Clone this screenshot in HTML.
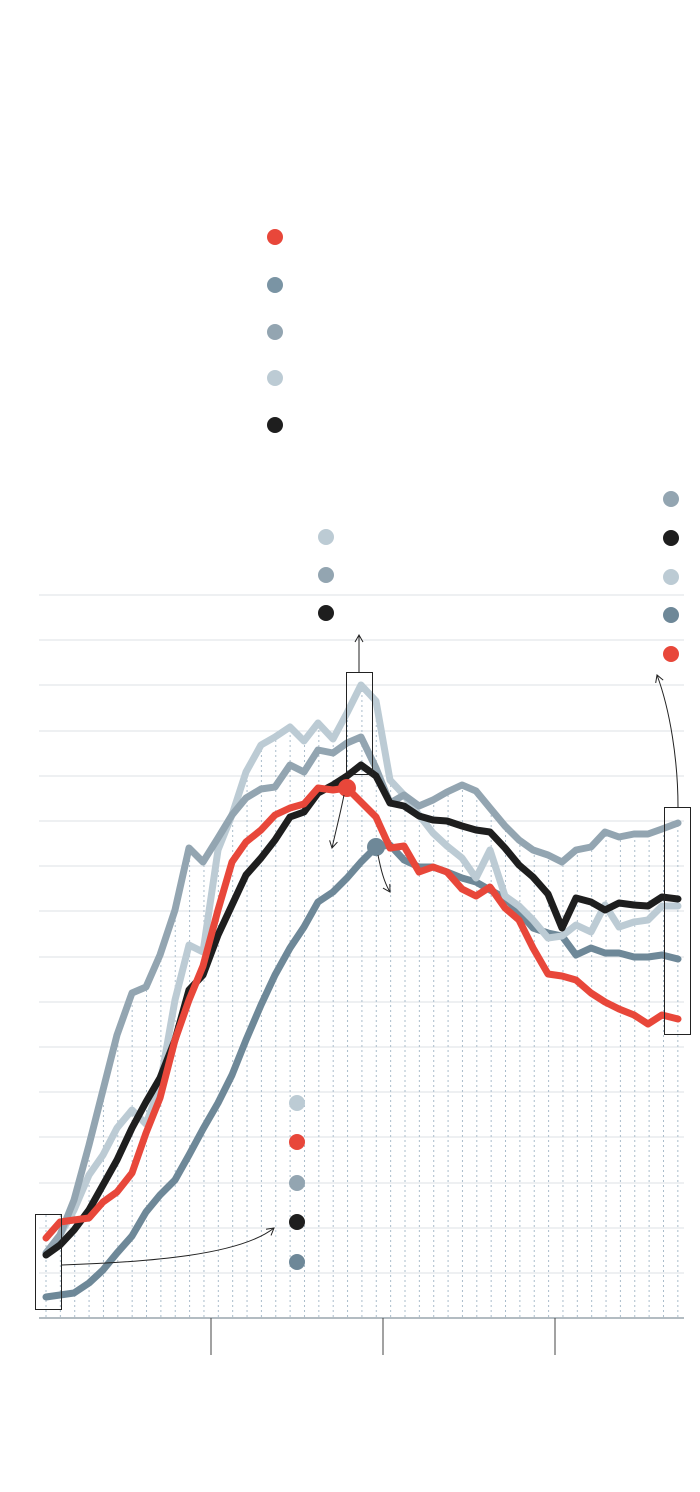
<!DOCTYPE html>
<html><head><meta charset="utf-8"><style>html,body{margin:0;padding:0;background:#fff}svg{display:block}</style></head>
<body>
<svg width="700" height="1492" viewBox="0 0 700 1492" xmlns="http://www.w3.org/2000/svg">
<defs>
<marker id="ah" markerWidth="10" markerHeight="10" refX="8" refY="5" orient="auto"><path d="M1,1 L8,5 L1,9" fill="none" stroke="#222" stroke-width="1"/></marker>
<pattern id="vp" x="45.5" y="0" width="14.36" height="5" patternUnits="userSpaceOnUse"><rect x="0" y="0" width="1" height="2" fill="#a9bccb"/></pattern>
<clipPath id="env"><polygon points="40,1318 40,1214 46,1214 60,1214 74,1200 89,1145 103,1090 117,1035 132,993 146,987 160,955 175,910 189,848 203,862 218,838 232,815 246,772 261,745 275,737 290,727 304,741 318,723 333,739 347,713 361,685 376,701 390,780 404,795 419,806 433,800 447,792 462,785 476,791 490,808 505,826 519,840 533,850 548,855 562,862 576,850 591,847 605,832 619,837 634,834 648,834 662,829 680,823 680,1318"/></clipPath>
</defs>
<g stroke="#dde2e6" stroke-width="1">
<line x1="39" x2="684" y1="595" y2="595"/><line x1="39" x2="684" y1="640" y2="640"/><line x1="39" x2="684" y1="685" y2="685"/><line x1="39" x2="684" y1="731" y2="731"/><line x1="39" x2="684" y1="776" y2="776"/><line x1="39" x2="684" y1="821" y2="821"/><line x1="39" x2="684" y1="866" y2="866"/><line x1="39" x2="684" y1="911" y2="911"/><line x1="39" x2="684" y1="957" y2="957"/><line x1="39" x2="684" y1="1002" y2="1002"/><line x1="39" x2="684" y1="1047" y2="1047"/><line x1="39" x2="684" y1="1092" y2="1092"/><line x1="39" x2="684" y1="1137" y2="1137"/><line x1="39" x2="684" y1="1183" y2="1183"/><line x1="39" x2="684" y1="1228" y2="1228"/><line x1="39" x2="684" y1="1273" y2="1273"/>
</g>
<rect x="40" y="600" width="645" height="718" fill="url(#vp)" clip-path="url(#env)"/>
<line x1="39" x2="684" y1="1318" y2="1318" stroke="#9aa5ad" stroke-width="1.5"/>
<g stroke="#444" stroke-width="1"><line x1="211" x2="211" y1="1318" y2="1355"/><line x1="383" x2="383" y1="1318" y2="1355"/><line x1="555" x2="555" y1="1318" y2="1355"/></g>
<g fill="none" stroke-width="7" stroke-linejoin="round" stroke-linecap="round">
<polyline stroke="#6e8898" points="46,1297 60,1295 74,1293 89,1283 103,1270 117,1253 132,1236 146,1212 160,1195 175,1180 189,1155 203,1129 218,1103 232,1075 246,1040 261,1005 275,975 290,948 304,927 318,902 333,892 347,878 361,862 376,847 390,845 404,860 419,867 433,867 447,872 462,878 476,882 490,890 505,898 519,912 533,928 548,933 562,936 576,955 591,948 605,953 619,953 634,957 648,957 662,955 678,959"/>
<polyline stroke="#bccbd4" points="46,1253 60,1235 74,1210 89,1175 103,1155 117,1128 132,1110 146,1124 160,1085 175,1000 189,945 203,952 218,850 232,815 246,772 261,745 275,737 290,727 304,741 318,723 333,739 347,713 361,685 376,701 390,780 404,795 419,815 433,833 447,846 462,858 476,878 490,850 505,896 519,906 533,920 548,938 562,936 576,925 591,932 605,905 619,927 634,922 648,920 662,906 678,906"/>
<polyline stroke="#93a5b1" points="46,1253 60,1235 74,1200 89,1145 103,1090 117,1035 132,993 146,987 160,955 175,910 189,848 203,862 218,838 232,815 246,798 261,789 275,787 290,765 304,772 318,750 333,753 347,743 361,737 376,768 390,803 404,795 419,806 433,800 447,792 462,785 476,791 490,808 505,826 519,840 533,850 548,855 562,862 576,850 591,847 605,832 619,837 634,834 648,834 662,829 678,823"/>
<polyline stroke="#1e1e1e" points="46,1255 60,1245 74,1230 89,1210 103,1185 117,1160 132,1128 146,1102 160,1078 175,1040 189,990 203,975 218,935 232,905 246,875 261,858 275,840 290,817 304,812 318,793 333,785 347,776 361,765 376,776 390,803 404,806 419,816 433,820 447,821 462,826 476,830 490,832 505,848 519,865 533,877 548,894 562,928 576,898 591,902 605,910 619,903 634,905 648,906 662,897 678,899"/>
<polyline stroke="#e8473a" points="46,1238 60,1222 74,1220 89,1218 103,1202 117,1192 132,1173 146,1133 160,1098 175,1040 189,1000 203,966 218,910 232,862 246,842 261,830 275,815 290,808 304,804 318,788 333,790 347,788 361,802 376,817 390,848 404,846 419,872 433,867 447,872 462,889 476,896 490,887 505,908 519,920 533,948 548,974 562,976 576,980 591,993 605,1002 619,1009 634,1015 648,1024 662,1015 678,1019"/>
</g>
<circle cx="347" cy="788" r="9" fill="#e8473a"/><circle cx="376" cy="847" r="9" fill="#6e8898"/>
<g fill="none" stroke="#222" stroke-width="1">
<rect x="35.5" y="1214.5" width="26" height="95"/><rect x="346.5" y="672.5" width="26" height="102"/><rect x="664.5" y="807.5" width="26" height="227"/>
<path d="M62,1265 C150,1262 240,1255 274,1228" marker-end="url(#ah)"/>
<path d="M359,672 L359,635" marker-end="url(#ah)"/>
<path d="M344,795 C340,815 336,830 332,848" marker-end="url(#ah)"/>
<path d="M378,855 C381,870 384,882 390,892" marker-end="url(#ah)"/>
<path d="M678,807 C678,760 670,710 657,675" marker-end="url(#ah)"/>
</g>
<g>
<circle cx="275" cy="237" r="8" fill="#e8473a"/><circle cx="275" cy="285" r="8" fill="#7a94a4"/><circle cx="275" cy="332" r="8" fill="#93a5b1"/><circle cx="275" cy="378" r="8" fill="#bccbd4"/><circle cx="275" cy="425" r="8" fill="#1e1e1e"/>
<circle cx="671" cy="499" r="8" fill="#93a5b1"/><circle cx="671" cy="538" r="8" fill="#1e1e1e"/><circle cx="671" cy="577" r="8" fill="#bccbd4"/><circle cx="671" cy="615" r="8" fill="#6e8898"/><circle cx="671" cy="654" r="8" fill="#e8473a"/>
<circle cx="326" cy="537" r="8" fill="#bccbd4"/><circle cx="326" cy="575" r="8" fill="#93a5b1"/><circle cx="326" cy="613" r="8" fill="#1e1e1e"/>
<circle cx="297" cy="1103" r="8" fill="#bccbd4"/><circle cx="297" cy="1142" r="8" fill="#e8473a"/><circle cx="297" cy="1183" r="8" fill="#93a5b1"/><circle cx="297" cy="1222" r="8" fill="#1e1e1e"/><circle cx="297" cy="1262" r="8" fill="#6e8898"/>
</g>
</svg>
</body></html>
